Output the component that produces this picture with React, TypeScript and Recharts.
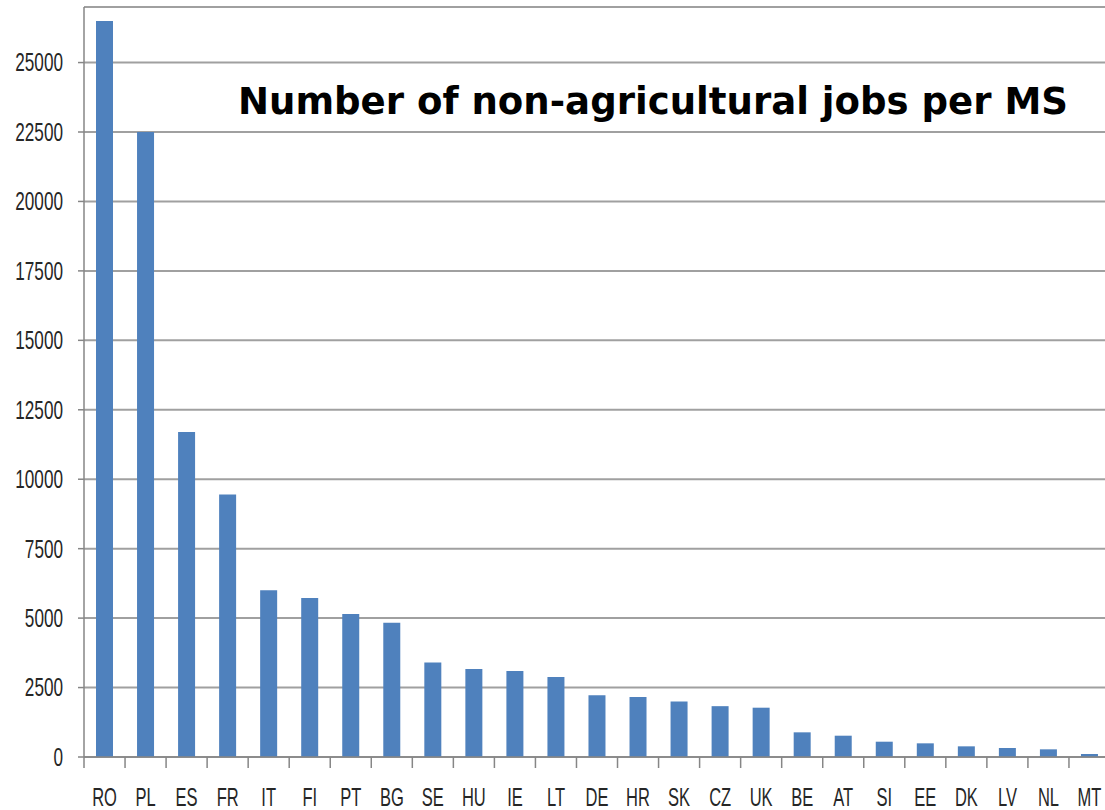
import React from 'react';
import { BarChart, Bar, XAxis, YAxis, CartesianGrid } from 'recharts';

const countries = ['RO','PL','ES','FR','IT','FI','PT','BG','SE','HU','IE','LT','DE','HR','SK','CZ','UK','BE','AT','SI','EE','DK','LV','NL','MT'];
const jobs = [26500,22500,11700,9450,6000,5720,5150,4830,3400,3170,3100,2880,2220,2160,2000,1830,1775,888,767,551,492,384,324,276,108];
const yTicks = [0,2500,5000,7500,10000,12500,15000,17500,20000,22500,25000];
const title = 'Number of non-agricultural jobs per MS';

const data = countries.map((c, i) => ({ name: c, value: jobs[i] }));

const CHART_W = 1110;
const Y_W = 84;
const BAND = (CHART_W - Y_W) / countries.length;

const YTick = (props: any) => {
  const { x, y, payload } = props;
  return (
    <text
      transform={`translate(${x},${y}) scale(0.66,1)`}
      textAnchor="end"
      dominantBaseline="central"
      fontSize={26}
      fontFamily="Liberation Sans"
      fill="#262626"
    >
      {payload.value}
    </text>
  );
};

const XTick = (props: any) => {
  const { x, y, payload } = props;
  const bx = x - BAND / 2;
  return (
    <g>
      <line x1={bx} x2={bx} y1={y} y2={y + 11} stroke="#868686" strokeWidth={1.5} />
      <text
        transform={`translate(${x},${y + 49}) scale(0.66,1)`}
        textAnchor="middle"
        fontSize={25}
        fontFamily="Liberation Sans"
        fill="#262626"
      >
        {payload.value}
      </text>
    </g>
  );
};

export default function App() {
  return (
    <div style={{ position: 'absolute', left: 0, top: 0, width: 1105, height: 810, overflow: 'hidden', background: '#fff' }}>
      <BarChart width={CHART_W} height={810} data={data} margin={{ top: 7, right: 0, bottom: 0, left: 0 }} barCategoryGap={0}>
        <CartesianGrid vertical={false} stroke="#a0a0a0" strokeWidth={2} />
        <XAxis
          dataKey="name"
          height={53}
          tickLine={false}
          tickSize={0}
          tickMargin={0}
          axisLine={{ stroke: '#868686', strokeWidth: 1.5 }}
          tick={<XTick />}
          interval={0}
        />
        <YAxis
          width={Y_W}
          domain={[0, 27000]}
          ticks={yTicks}
          tickSize={6}
          tickMargin={15}
          tickLine={{ stroke: '#868686', strokeWidth: 1.5 }}
          axisLine={{ stroke: '#868686', strokeWidth: 1.5 }}
          tick={<YTick />}
          interval={0}
        />
        <Bar dataKey="value" fill="#4f81bd" barSize={17} isAnimationActive={false} />
      </BarChart>
      <svg width={1105} height={810} style={{ position: 'absolute', left: 0, top: 0, pointerEvents: 'none' }}>
        <text
          x={238}
          y={114}
          fontFamily="DejaVu Sans"
          fontWeight="bold"
          fontSize={37}
          fill="#000"
          textLength={830}
          lengthAdjust="spacingAndGlyphs"
        >
          {title}
        </text>
      </svg>
    </div>
  );
}
